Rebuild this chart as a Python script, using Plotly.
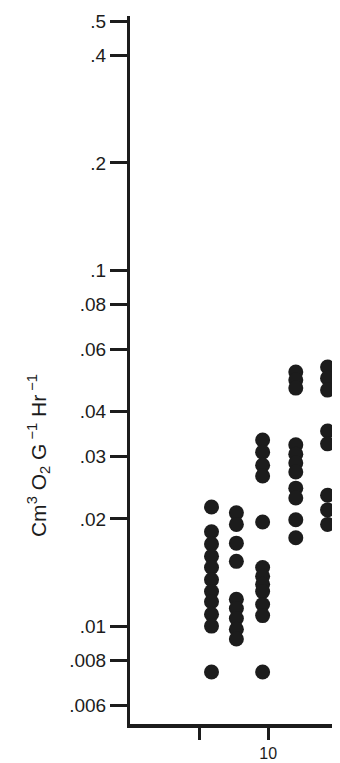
import plotly.graph_objects as go

# Column x positions
x_positions = [5.9, 7.7, 9.6, 12.0, 14.3]

# Values per column (cm3 O2 g-1 hr-1)
col1 = [0.0216, 0.0184, 0.0170, 0.0157, 0.0146, 0.0135, 0.0125, 0.0117, 0.0108, 0.0100, 0.00743]
col2 = [0.0208, 0.0193, 0.0171, 0.0152, 0.0119, 0.0112, 0.0105, 0.0098, 0.0092]
col3 = [0.0333, 0.0308, 0.0283, 0.0264, 0.0196, 0.0146, 0.0138, 0.0131, 0.0125, 0.0115, 0.0107, 0.00743]
col4 = [0.0517, 0.0491, 0.0466, 0.0323, 0.0304, 0.0287, 0.0271, 0.0244, 0.0229, 0.0199, 0.0177]
col5 = [0.0534, 0.0497, 0.0460, 0.0353, 0.0325, 0.0233, 0.0212, 0.0193]
columns = [col1, col2, col3, col4, col5]

y_tickvals = [0.5, 0.4, 0.2, 0.1, 0.08, 0.06, 0.04, 0.03, 0.02, 0.01, 0.008, 0.006]
y_ticktext = [".5", ".4", ".2", ".1", ".08", ".06", ".04", ".03", ".02", ".01", ".008", ".006"]
x_tickvals = [5, 10, 15]
x_ticktext = ["", "10", ""]

xs, ys = [], []
for xp, col in zip(x_positions, columns):
    xs += [xp] * len(col)
    ys += col

ink = "#1c1c1c"
fig = go.Figure()
fig.add_trace(go.Scatter(x=xs, y=ys, mode="markers",
                         marker=dict(size=15, color=ink, line=dict(width=0)),
                         showlegend=False, cliponaxis=False))

fig.update_layout(
    width=332, height=755,
    margin=dict(l=122, r=0, t=8, b=39),
    paper_bgcolor="white", plot_bgcolor="white",
    font=dict(family="Liberation Sans, Arial, sans-serif", color=ink),
    xaxis=dict(range=[0, 15.2], tickvals=x_tickvals, ticktext=x_ticktext,
               ticks="outside", ticklen=12, tickwidth=2.5, tickcolor=ink,
               showline=True, linewidth=4, linecolor=ink, showgrid=False,
               zeroline=False, tickfont=dict(size=16)),
    yaxis=dict(type="log", range=[-2.275, -0.2865], tickvals=y_tickvals,
               ticktext=y_ticktext, ticks="outside", ticklen=17, tickwidth=2.5,
               tickcolor=ink, showline=True, linewidth=3, linecolor=ink,
               showgrid=False, zeroline=False, tickfont=dict(size=19)),
    annotations=[dict(
        text="Cm<sup>3</sup> O<sub>2</sub> G<sup> \u22121</sup> Hr<sup> \u22121</sup>",
        xref="paper", yref="paper", x=-0.4380, y=0.3785,
        xanchor="center", yanchor="middle", textangle=-90, showarrow=False,
        font=dict(size=21, color=ink))],
)

fig.write_html("out.html")
